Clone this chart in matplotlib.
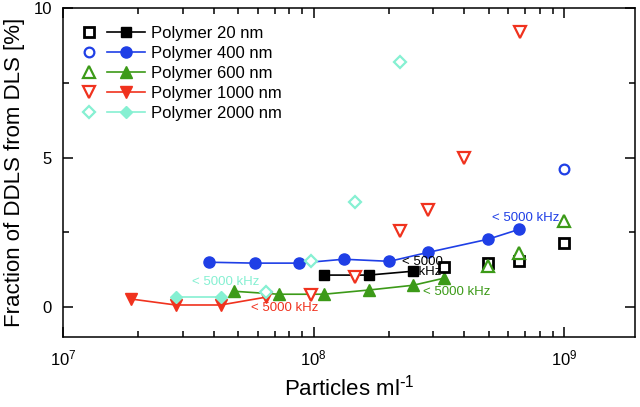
import matplotlib
matplotlib.use("Agg")
import matplotlib.pyplot as plt
from matplotlib.legend_handler import HandlerTuple
from matplotlib.ticker import LogLocator, MultipleLocator

plt.rcParams['font.family'] = ['Liberation Sans', 'DejaVu Sans']
plt.rcParams['mathtext.default'] = 'regular'

labels = ["Polymer 20 nm", "Polymer 400 nm", "Polymer 600 nm",
          "Polymer 1000 nm", "Polymer 2000 nm"]
colors = ["#000000", "#1f3fe6", "#3c9a18", "#f0321e", "#86f0d2"]
markers = ["s", "o", "^", "v", "D"]

# diluted samples (filled, connected)
dil_x = [
    [1.10e8, 1.66e8, 2.50e8],
    [3.82e7, 5.82e7, 8.79e7, 1.32e8, 2.01e8, 2.87e8, 4.98e8, 6.62e8],
    [4.8e7, 7.26e7, 1.10e8, 1.66e8, 2.50e8, 3.33e8],
    [1.87e7, 2.82e7, 4.26e7, 6.44e7],
    [2.82e7, 4.26e7],
]
dil_y = [
    [1.07, 1.07, 1.20],
    [1.50, 1.47, 1.47, 1.60, 1.53, 1.83, 2.27, 2.60],
    [0.53, 0.43, 0.43, 0.57, 0.73, 0.97],
    [0.27, 0.07, 0.07, 0.33],
    [0.33, 0.33],
]

# undiluted samples (open symbols)
und_x = [
    [3.33e8, 4.98e8, 6.62e8, 1.0e9],
    [1.0e9],
    [4.98e8, 6.62e8, 1.0e9],
    [9.73e7, 1.47e8, 2.22e8, 2.87e8, 4.0e8, 6.68e8],
    [6.44e7, 9.73e7, 1.47e8, 2.22e8],
]
und_y = [
    [1.33, 1.47, 1.53, 2.13],
    [4.63],
    [1.37, 1.80, 2.87],
    [0.40, 1.00, 2.53, 3.23, 5.00, 9.20],
    [0.50, 1.53, 3.53, 8.20],
]

# "< 5000 kHz" annotations
note_x = [2.72e8, 7.0e8, 3.72e8, 7.69e7, 4.46e7]
note_y = [1.33, 2.97, 0.50, -0.03, 0.83]
note_txt = ["< 5000\n    kHz", "< 5000 kHz", "< 5000 kHz", "< 5000 kHz", "< 5000 kHz"]

fig = plt.figure(figsize=(6.4, 4.07), dpi=100)
ax = fig.add_axes([0.0984, 0.172, 0.8938, 0.8083])

sizes = [7, 8, 8, 8, 6.5]
open_sizes = [6.5, 7, 8, 8, 6.5]
open_mew = [2.0, 1.6, 1.6, 1.6, 1.6]

handles = []
for i in range(5):
    line, = ax.plot(dil_x[i], dil_y[i], color=colors[i], marker=markers[i],
                    ms=sizes[i], lw=1.2, zorder=2)
    handles.append(line)

opens = []
for i in range(5):
    pt, = ax.plot(und_x[i], und_y[i], ls='none', marker=markers[i],
                  ms=open_sizes[i], mfc='white', mec=colors[i],
                  mew=open_mew[i], zorder=3)
    opens.append(pt)

for i in range(5):
    ax.text(note_x[i], note_y[i], note_txt[i], color=colors[i], fontsize=9.5,
            ha='center', va='center', linespacing=0.8, zorder=4)

ax.set_xscale('log')
ax.set_xlim(1e7, 1.92e9)
ax.set_ylim(-1, 10)
ax.yaxis.set_major_locator(MultipleLocator(5))
ax.yaxis.set_minor_locator(MultipleLocator(2.5))
ax.xaxis.set_major_locator(LogLocator(base=10))
ax.xaxis.set_minor_locator(LogLocator(base=10, subs=range(2, 10)))

ax.tick_params(which='both', direction='in', top=True, right=True, width=1.1)
ax.tick_params(which='major', length=7, labelsize=12, pad=8)
ax.tick_params(which='minor', length=4)
for s in ax.spines.values():
    s.set_linewidth(1.1)

ax.set_xlabel(r"Particles ml$^{\text{-}1}$", fontsize=16, labelpad=5)
ax.set_ylabel("Fraction of DDLS from DLS [%]", fontsize=16, labelpad=6)

leg = ax.legend([(o, h) for o, h in zip(opens, handles)], labels,
                handler_map={tuple: HandlerTuple(ndivide=None, pad=0)},
                loc='upper left', bbox_to_anchor=(0.012, 0.945),
                frameon=False, fontsize=12, handlelength=4.5,
                handletextpad=0.35, labelspacing=0.30,
                borderpad=0, borderaxespad=0)

fig.savefig("out.png", dpi=100)
